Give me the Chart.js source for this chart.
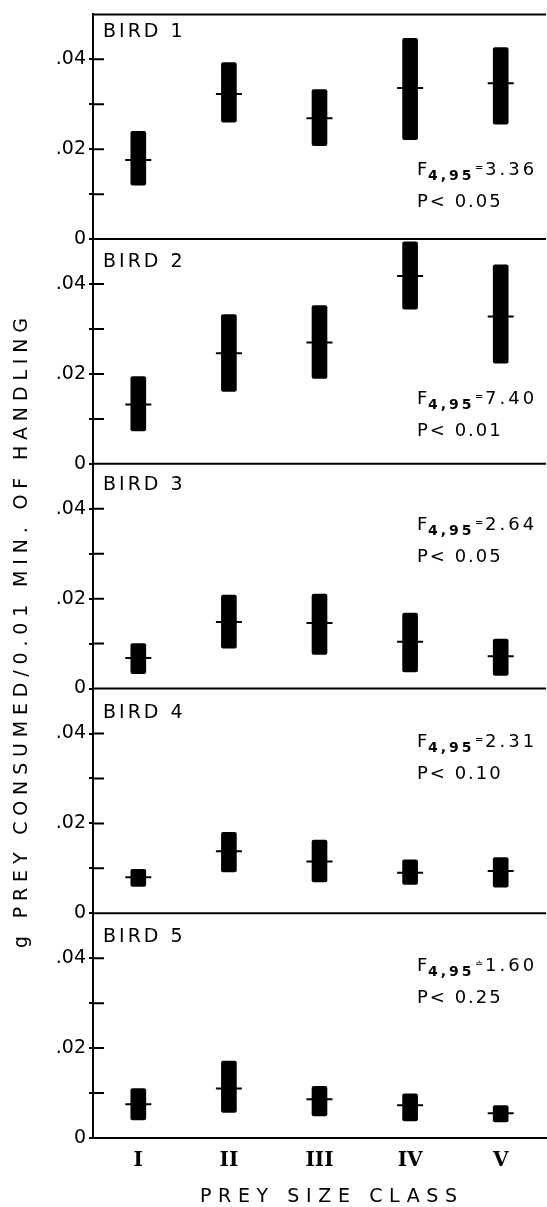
<!DOCTYPE html>
<html>
<head>
<meta charset="utf-8">
<script src="https://cdn.jsdelivr.net/npm/chart.js@4"></script>
<style>
  html, body { margin: 0; padding: 0; background: #fff; }
</style>
</head>
<body>
<canvas id="handlingChart" width="547" height="1207"></canvas>
<script>
// prey size classes on the x axis
const sizeClasses = ["I", "II", "III", "IV", "V"];
const birdNames = ["BIRD 1", "BIRD 2", "BIRD 3", "BIRD 4", "BIRD 5"];

// g prey consumed / 0.01 min of handling: mean and range per size class
const bird1Mean = [0.0176, 0.0323, 0.0269, 0.0336, 0.0347];
const bird1Low  = [0.0120, 0.0260, 0.0208, 0.0221, 0.0256];
const bird1High = [0.0240, 0.0393, 0.0333, 0.0447, 0.0426];

const bird2Mean = [0.0132, 0.0246, 0.0270, 0.0418, 0.0328];
const bird2Low  = [0.0073, 0.0161, 0.0190, 0.0344, 0.0224];
const bird2High = [0.0194, 0.0332, 0.0352, 0.0494, 0.0443];

const bird3Mean = [0.0068, 0.0148, 0.0146, 0.0104, 0.0072];
const bird3Low  = [0.0033, 0.0090, 0.0076, 0.0037, 0.0029];
const bird3High = [0.0100, 0.0208, 0.0210, 0.0168, 0.0110];

const bird4Mean = [0.0080, 0.0138, 0.0115, 0.0090, 0.0094];
const bird4Low  = [0.0060, 0.0092, 0.0070, 0.0064, 0.0058];
const bird4High = [0.0098, 0.0180, 0.0163, 0.0119, 0.0124];

const bird5Mean = [0.0075, 0.0110, 0.0086, 0.0073, 0.0055];
const bird5Low  = [0.0040, 0.0057, 0.0049, 0.0038, 0.0036];
const bird5High = [0.0110, 0.0171, 0.0115, 0.0098, 0.0072];

// ANOVA results printed in each panel
const fValues = ["3.36", "7.40", "2.64", "2.31", "1.60"];
const fSigns  = ["=", "=", "=", "=", "\u2250"];
const pValues = ["0.05", "0.01", "0.05", "0.10", "0.25"];

const yTickValues = [0, 0.01, 0.02, 0.03, 0.04];
const yTickLabels = ["0", "", ".02", "", ".04"];

const means = [bird1Mean, bird2Mean, bird3Mean, bird4Mean, bird5Mean];
const lows  = [bird1Low, bird2Low, bird3Low, bird4Low, bird5Low];
const highs = [bird1High, bird2High, bird3High, bird4High, bird5High];

// text placement (px below the top of each panel)
const labelOffset = [23, 28, 26, 29, 29];
const statOffset  = [161, 165, 66, 58, 58];

const FONT = '"DejaVu Sans", sans-serif';

const datasets = [];
const scales = {
  x: {
    type: "category",
    labels: sizeClasses,
    offset: true,
    grid: { display: false, drawTicks: false },
    border: { display: true, color: "#000", width: 2 },
    ticks: { color: "#000", padding: 11, font: { family: '"DejaVu Serif", serif', size: 20, weight: "bold" } },
    afterFit: (s) => { s.height = 69; },
  },
};

means.forEach((m, i) => {
  const yId = "y" + i;
  datasets.push({
    type: "line",
    data: m,
    yAxisID: yId,
    showLine: false,
    pointStyle: "line",
    pointRadius: 13,
    pointHoverRadius: 13,
    pointBorderWidth: 2,
    pointBorderColor: "#000",
    borderColor: "#000",
  });
  datasets.push({
    type: "bar",
    data: lows[i].map((lo, k) => [lo, highs[i][k]]),
    yAxisID: yId,
    grouped: false,
    barThickness: 15,
    backgroundColor: "#000",
    borderRadius: 2,
    borderSkipped: false,
  });
  scales[yId] = {
    type: "linear",
    position: "left",
    stack: "birds",
    stackWeight: 1,
    weight: 5 - i,
    min: 0,
    max: 0.05,
    afterBuildTicks: (s) => { s.ticks = yTickValues.map((v) => ({ value: v })); },
    afterFit: (s) => { s.width = 93; },
    grid: { drawOnChartArea: false, drawTicks: true, tickLength: 4, color: "#000", lineWidth: 2 },
    border: { display: true, color: "#000", width: 2 },
    ticks: {
      autoSkip: false,
      color: "#000",
      padding: 3,
      font: { family: FONT, size: 19 },
      callback: (v, idx) => yTickLabels[idx],
    },
  };
});

function spaced(ctx, text, x, y, width) {
  ctx.letterSpacing = "0px";
  const w0 = ctx.measureText(text).width;
  const gap = (width - w0) / (text.length - 1);
  ctx.letterSpacing = gap + "px";
  ctx.fillText(text, x, y);
  ctx.letterSpacing = "0px";
}

const panelDecor = {
  id: "panelDecor",
  afterDraw(chart) {
    const { ctx, chartArea } = chart;
    ctx.save();
    ctx.strokeStyle = "#000";
    ctx.fillStyle = "#000";
    ctx.lineWidth = 2;

    means.forEach((m, i) => {
      const s = chart.scales["y" + i];
      const y0 = s.getPixelForValue(0);
      const top = s.getPixelForValue(0.05);
      ctx.beginPath();
      ctx.moveTo(chartArea.left, y0);
      ctx.lineTo(chartArea.right, y0);
      if (i === 0) {
        ctx.moveTo(chartArea.left - 1, top);
        ctx.lineTo(chartArea.right, top);
      }
      // inward part of the tick marks
      s.ticks.forEach((t) => {
        if (t.value === 0) return;
        const ty = s.getPixelForValue(t.value);
        ctx.moveTo(chartArea.left, ty);
        ctx.lineTo(chartArea.left + 11, ty);
      });
      ctx.stroke();

      // panel label
      ctx.textAlign = "left";
      ctx.textBaseline = "alphabetic";
      ctx.font = "19px " + FONT;
      ctx.letterSpacing = "3px";
      ctx.fillText(birdNames[i], chartArea.left + 10, top + labelOffset[i]);

      // statistics
      const fy = top + statOffset[i];
      ctx.font = "18px " + FONT;
      ctx.letterSpacing = "0px";
      ctx.fillText("F", 417, fy);
      ctx.font = "bold 14px " + FONT;
      ctx.letterSpacing = "3px";
      ctx.fillText("4,95", 428, fy + 5);
      ctx.font = "10px " + FONT;
      ctx.letterSpacing = "0px";
      ctx.fillText(fSigns[i], 475, fy - 4);
      ctx.font = "18px " + FONT;
      ctx.letterSpacing = "3px";
      ctx.fillText(fValues[i], 485, fy);
      ctx.letterSpacing = "2px";
      ctx.fillText("P< " + pValues[i], 417, fy + 32);
      ctx.letterSpacing = "0px";
    });

    // axis titles
    ctx.font = "19px " + FONT;
    ctx.textAlign = "left";
    ctx.textBaseline = "alphabetic";
    spaced(ctx, "PREY SIZE CLASS", 200, 1202, 257);

    ctx.translate(22, 633);
    ctx.rotate(-Math.PI / 2);
    ctx.font = "19px " + FONT;
    ctx.textBaseline = "middle";
    spaced(ctx, "g PREY CONSUMED/0.01 MIN. OF HANDLING", -315, 0, 630);
    ctx.restore();
  },
};

new Chart(document.getElementById("handlingChart").getContext("2d"), {
  type: "bar",
  data: { labels: sizeClasses, datasets },
  options: {
    responsive: false,
    animation: false,
    devicePixelRatio: 1,
    events: [],
    layout: { autoPadding: false, padding: { top: 11, right: 1, bottom: 0, left: 0 } },
    plugins: { legend: { display: false }, tooltip: { enabled: false } },
    scales,
  },
  plugins: [panelDecor],
});
</script>
</body>
</html>
